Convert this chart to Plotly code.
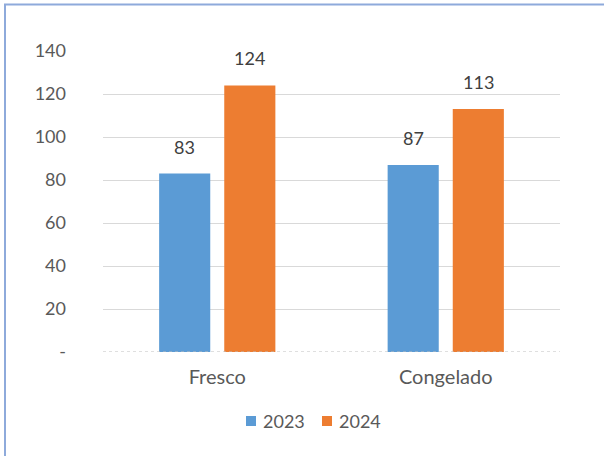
import plotly.graph_objects as go

categories = ["Fresco", "Congelado"]
series_names = ["2023", "2024"]
values_2023 = [83, 87]
values_2024 = [124, 113]
y_ticks = [0, 20, 40, 60, 80, 100, 120, 140]
y_tick_text = ["-", "20", "40", "60", "80", "100", "120", "140"]

colors = ["#5B9BD5", "#ED7D31"]
font_family = "Lato, Open Sans, sans-serif"
txt_color = "#595959"
label_color = "#404040"

L, R, T, B, W, H = 103, 44, 51, 104, 604, 456
plot_w = W - L - R
plot_h = H - T - B
bargap, bargroupgap = 0.43, 0.215
slot = plot_w / len(categories) * (1 - bargap) / 2


def px_x(p):
    return (p - L) / plot_w


def px_y(p):
    return (H - B - p) / plot_h


fig = go.Figure()
for i, (name, vals, col) in enumerate(zip(series_names, [values_2023, values_2024], colors)):
    fig.add_trace(go.Bar(x=categories, y=vals, name=name, marker_color=col, marker_line_width=0))
    shift = (i - 0.5) * slot
    for c, v in zip(categories, vals):
        fig.add_annotation(x=c, y=v, text=str(v), showarrow=False, xanchor="center",
                           yanchor="bottom", xshift=shift, yshift=14,
                           font=dict(size=18, color=label_color, family=font_family))

# custom legend (square swatch + label)
legend_left = [246, 322]
for name, col, lx in zip(series_names, colors, legend_left):
    fig.add_shape(type="rect", xref="paper", yref="paper",
                  x0=px_x(lx), x1=px_x(lx + 10), y0=px_y(426), y1=px_y(416),
                  line=dict(width=0), fillcolor=col)
    fig.add_annotation(xref="paper", yref="paper", x=px_x(lx + 15), y=px_y(421),
                       text=name, showarrow=False, xanchor="left", yanchor="middle",
                       font=dict(size=18, color=txt_color, family=font_family))

fig.update_layout(
    width=W, height=H,
    margin=dict(l=L, r=R, t=T, b=B),
    paper_bgcolor="white", plot_bgcolor="white",
    barmode="group", bargap=bargap, bargroupgap=bargroupgap,
    font=dict(family=font_family, size=18, color=txt_color),
    showlegend=False,
)
fig.update_yaxes(range=[0, 140], tickvals=y_ticks, ticktext=y_tick_text,
                 showgrid=True, gridcolor="#D9D9D9", gridwidth=1,
                 zeroline=False, showline=False, ticks="", ticklabelstandoff=36,
                 tickfont=dict(size=18, color=txt_color))
fig.update_xaxes(showline=False, ticks="", ticklabelstandoff=11,
                 tickfont=dict(size=20, color=txt_color))
fig.add_shape(type="line", xref="paper", yref="y", x0=0, x1=1, y0=0, y1=0,
              line=dict(color="#BFBFBF", width=1, dash="dot"), layer="above")
fig.add_shape(type="rect", xref="paper", yref="paper",
              x0=px_x(5), x1=1.3, y0=-0.6, y1=px_y(4.5),
              line=dict(color="#8EAADB", width=2), fillcolor="rgba(0,0,0,0)", layer="below")

fig.write_html("out.html", config={"displayModeBar": False},
               post_script="document.body.style.margin='0';document.body.style.padding='0';")
